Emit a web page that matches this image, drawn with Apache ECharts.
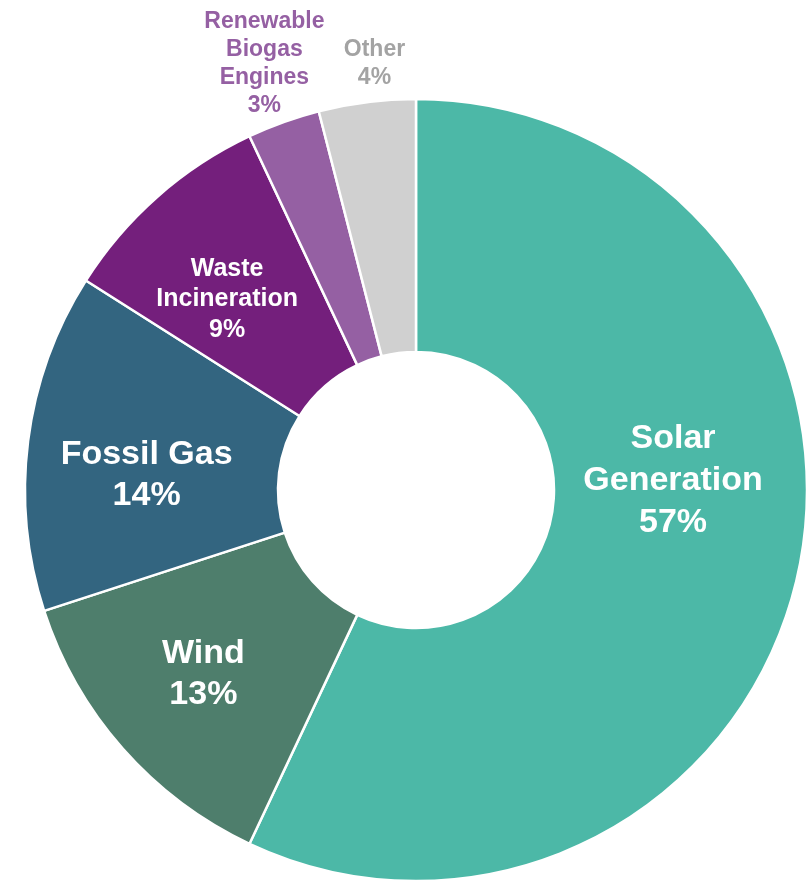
<!DOCTYPE html>
<html>
<head>
<meta charset="utf-8">
<style>
html,body{margin:0;padding:0;background:#fff;}
#chart{width:809px;height:881px;}
</style>
<script src="https://cdn.jsdelivr.net/npm/echarts@6/dist/echarts.min.js"></script>
</head>
<body>
<div id="chart"></div>
<script>
const categories = ['Solar Generation', 'Wind', 'Fossil Gas', 'Waste Incineration', 'Renewable Biogas Engines', 'Other'];
const labelNames = ['Solar\nGeneration', 'Wind', 'Fossil Gas', 'Waste\nIncineration', 'Renewable\nBiogas\nEngines', 'Other'];
const shares = [57, 13, 14, 9, 3, 4];

const colors = ['#4cb8a7', '#4e7e6c', '#336580', '#741f7c', '#9560a3', '#d0d0d0'];
const labelColors = ['#ffffff', '#ffffff', '#ffffff', '#ffffff', '#9560a3', '#a3a3a3'];
const labelSizes = [34, 34, 34, 25, 23, 23];
const labelLineHeights = [42, 41, 41, 30.5, 28, 28];
const labelOffsets = [[-4, -68], [-12, 7], [-4, 19], [-12, 10], [-61, -175], [-8, -161]];

const chart = echarts.init(document.getElementById('chart'));
chart.setOption({
  animation: false,
  series: [{
    type: 'pie',
    center: [416, 490],
    radius: [138, 391],
    startAngle: 90,
    clockwise: true,
    avoidLabelOverlap: false,
    labelLine: { show: false },
    itemStyle: { borderColor: '#ffffff', borderWidth: 2.5 },
    emphasis: { disabled: true },
    data: categories.map((c, i) => ({
      name: c,
      value: shares[i],
      itemStyle: { color: colors[i] },
      label: {
        show: true,
        position: 'inside',
        formatter: () => labelNames[i] + '\n' + shares[i] + '%',
        color: labelColors[i],
        fontFamily: 'Liberation Sans, Arial, sans-serif',
        fontWeight: 'bold',
        fontSize: labelSizes[i],
        lineHeight: labelLineHeights[i],
        align: 'center',
        offset: labelOffsets[i]
      }
    }))
  }]
});
</script>
</body>
</html>
